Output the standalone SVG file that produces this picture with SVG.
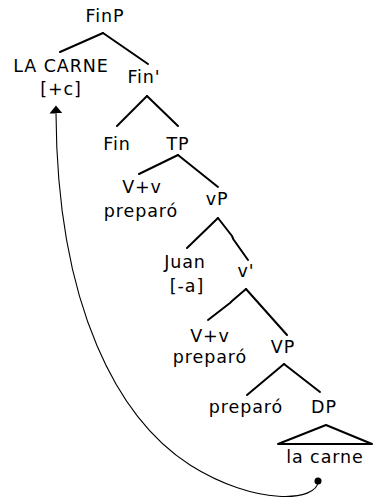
<svg xmlns="http://www.w3.org/2000/svg" width="373" height="500" viewBox="0 0 373 500">
<style>
text{font-family:"DejaVu Sans","Liberation Sans",sans-serif;font-size:17.5px;letter-spacing:0.9px;text-anchor:middle;fill:#000}
.e{stroke:#000;stroke-width:2;fill:none;stroke-linecap:round;stroke-linejoin:round}
.mv{stroke:#000;stroke-width:1.1;fill:none}
</style>
<defs>
<marker id="ah" viewBox="0 0 8 13" refX="0.5" refY="6.5" markerWidth="8" markerHeight="13" markerUnits="userSpaceOnUse" orient="auto">
<path d="M0,0 L8,6.5 L0,13 Z" fill="#000"/>
</marker>
</defs>
<rect width="373" height="500" fill="#fff"/>
<g id="connectors">
<line class="e" x1="103" y1="33" x2="60" y2="52"/>
<line class="e" x1="103" y1="33" x2="148" y2="64"/>
<line class="e" x1="147" y1="96" x2="117" y2="126"/>
<line class="e" x1="147" y1="96" x2="178" y2="126"/>
<line class="e" x1="178" y1="155" x2="139" y2="174"/>
<line class="e" x1="178" y1="155" x2="218" y2="187"/>
<line class="e" x1="218" y1="218" x2="187" y2="248"/>
<polyline class="e" points="218,218 232,236 233.5,239.5 248,260"/>
<polyline class="e" points="246,289 232,301 230,303 208,320"/>
<line class="e" x1="246" y1="289" x2="287" y2="335"/>
<line class="e" x1="284" y1="364" x2="247" y2="395"/>
<line class="e" x1="284" y1="364" x2="320" y2="392"/>
<path class="mv" d="M318,481 C318,502 255,506 190,465 C120,420 57,310 56,113" marker-end="url(#ah)"/>
</g>
<g id="FinP"><text x="105" y="22">FinP</text></g>
<g id="LACARNE"><text x="61" y="72">LA CARNE</text><text x="61" y="95">[+c]</text></g>
<g id="FinBar"><text x="144" y="83">Fin'</text></g>
<g id="Fin"><text x="117" y="150">Fin</text></g>
<g id="TP"><text x="178" y="150">TP</text></g>
<g id="Vv1"><text x="142" y="193">V+v</text><text x="141" y="217">preparó</text></g>
<g id="vP"><text x="217" y="205">vP</text></g>
<g id="Juan"><text x="185" y="268">Juan</text><text x="187" y="292">[-a]</text></g>
<g id="vBar"><text x="246" y="277">v'</text></g>
<g id="Vv2"><text x="210" y="342">V+v</text><text x="210" y="363">preparó</text></g>
<g id="VP"><text x="283" y="353">VP</text></g>
<g id="V"><text x="246" y="413">preparó</text></g>
<g id="DP"><text x="324" y="413">DP</text>
<polygon class="e" points="326,425 278,444 372,444"/>
<text x="325" y="463">la carne</text>
<circle cx="318" cy="481" r="3.5" fill="#000"/>
</g>
</svg>
